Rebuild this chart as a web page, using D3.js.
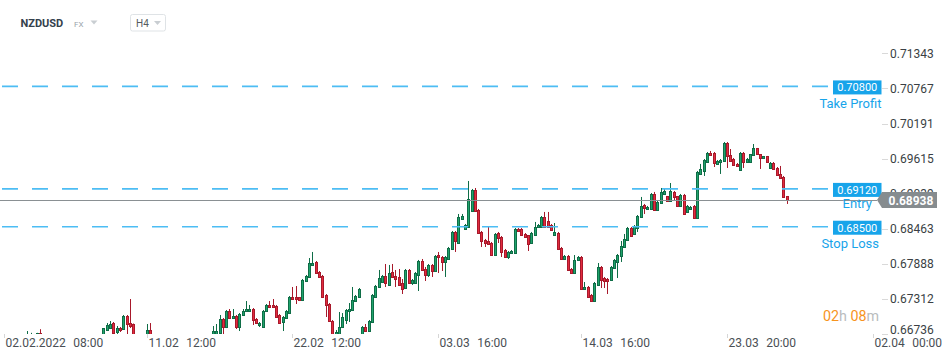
<!DOCTYPE html>
<html><head><meta charset="utf-8">
<script src="https://cdn.jsdelivr.net/npm/d3@7"></script>
<style>body{margin:0;background:#fff;} svg{display:block;font-family:Roboto,"Noto Sans",sans-serif;}</style>
</head><body><svg id="c" width="950" height="360"></svg>
<script>
// ---------- data (H4 candles, index 0 = 02.02.2022 08:00) ----------
const opens = [
.6640,.6645,.6652,.6648,.6655,.6660,.6657,.6662,.6665,.6670,
.6664,.6676,.6664,.6658,.6650,.6645,.6640,.6636,.6630,.6628,
.6633,.6640,.6646,.6650,.6655,.6652,.6658,.6661,.6657,.6663,
.66692,.66807,.66839,.66921,.66774,.66839,.66823,.67036,.66921,.66905,
.66736,.6661,.6665,.66692,.66807,.6668,.6661,.6655,.6649,.6644,
.6640,.6637,.6642,.6648,.6645,.6639,.6635,.6641,.6647,.6652,
.6658,.6662,.6667,.66692,.66725,.66757,.66987,.66856,.67118,.67003,
.67036,.66856,.67053,.67118,.67118,.67151,.66987,.66889,.66856,.67118,
.67217,.67217,.67200,.67053,.66938,.67003,.67085,.67348,.67348,.67348,
.67299,.67610,.67676,.67873,.67922,.67758,.67692,.67381,.67233,.66954,
.66643,.66741,.66856,.66971,.67118,.67135,.67282,.67348,.66643,.66856,
.66790,.66938,.67348,.67512,.67594,.67692,.67545,.67758,.67692,.67676,
.67577,.67495,.67791,.67577,.67577,.67709,.67938,.67807,.67709,.67873,
.67774,.68036,.68004,.67922,.67971,.68135,.68414,.68233,.68627,.68463,
.68496,.68758,.69102,.68774,.68414,.68282,.68266,.68233,.68036,.68397,
.68332,.68118,.68004,.68069,.68069,.68463,.68463,.68381,.68364,.68233,
.68364,.68496,.68496,.68660,.68594,.68528,.68364,.68397,.68151,.67971,
.68020,.67807,.67741,.67955,.68004,.67479,.67512,.67381,.67282,.67545,
.67840,.67659,.67643,.67627,.67823,.67922,.68020,.68168,.68282,.68479,
.68381,.68479,.68660,.68856,.68791,.68791,.69037,.68774,.68889,.69037,
.69004,.68922,.69070,.69004,.68840,.69020,.68742,.68791,.68840,.68643,
.69365,.69414,.69561,.69709,.69709,.69529,.69561,.69578,.69873,.69676,
.69610,.69529,.69430,.69709,.69561,.69561,.69676,.69791,.69692,.69627,
.69660,.69463,.69545,.69463,.69365,.69316,.68996];
const highs = [
.6649,.6656,.6660,.6658,.6664,.6667,.6668,.6679,.6676,.6671,
.6676,.6682,.6666,.6660,.6652,.6647,.6642,.6638,.6632,.6635,
.6642,.6648,.6652,.6657,.6657,.6660,.6663,.6663,.6665,.6670,
.66839,.66921,.66954,.66938,.66872,.66856,.67053,.67053,.67315,.66913,
.66741,.6668,.6671,.66905,.66921,.6670,.6663,.6657,.6651,.6646,
.6642,.6644,.6650,.6650,.6647,.6641,.6643,.6649,.6654,.6660,
.6664,.6669,.6670,.66872,.66905,.67053,.67003,.67135,.67151,.67151,
.67053,.67085,.67151,.67282,.67217,.67167,.67003,.66938,.67135,.67233,
.67282,.67315,.67217,.67069,.67036,.67135,.67364,.67512,.67528,.67348,
.67643,.67709,.67987,.68086,.67938,.67774,.67709,.67397,.67249,.66971,
.66807,.67102,.67085,.67151,.67249,.67512,.67381,.67495,.66872,.66905,
.66971,.67397,.67545,.67791,.67709,.67889,.67873,.67889,.67791,.67807,
.67643,.67807,.67807,.67643,.67758,.67955,.67971,.67840,.67889,.67889,
.68036,.68086,.68020,.68020,.68168,.68430,.68430,.68709,.68709,.68545,
.69250,.69119,.69135,.68791,.68430,.68299,.68496,.68250,.68397,.68414,
.68348,.68135,.68102,.68118,.68479,.68479,.68479,.68397,.68364,.68414,
.68578,.68545,.68676,.68742,.68742,.68545,.68561,.68414,.68168,.68036,
.68036,.67823,.68036,.68020,.68020,.67594,.67528,.67397,.67594,.67905,
.67856,.67676,.67659,.67856,.67971,.68053,.68266,.68381,.68496,.68496,
.68528,.68692,.68988,.68873,.68840,.69053,.69070,.68922,.69135,.69119,
.69004,.69217,.69086,.69004,.69037,.69037,.68856,.68840,.68856,.69414,
.69529,.69610,.69725,.69742,.69725,.69594,.69610,.69889,.69889,.69774,
.69627,.69545,.69725,.69725,.69627,.69692,.69856,.69791,.69692,.69660,
.69660,.69561,.69561,.69479,.69496,.69332,.69004];
const lows = [
.6636,.6638,.6645,.6641,.6649,.6652,.6653,.6658,.6661,.6660,
.6660,.6660,.6655,.6647,.6642,.6637,.6633,.6627,.6625,.6625,
.6630,.6637,.6643,.6647,.6649,.6649,.6655,.6654,.6654,.6660,
.66643,.66790,.66823,.66741,.66725,.66774,.66807,.66708,.66839,.66643,
.66561,.6657,.6662,.66676,.66643,.6658,.6652,.6646,.6641,.6637,
.6634,.6634,.6639,.6642,.6636,.6632,.6632,.6638,.6644,.6649,
.6655,.6659,.6663,.66676,.66708,.66741,.66725,.66839,.66987,.66987,
.66823,.66790,.67036,.67102,.67102,.66889,.66905,.66856,.66856,.67102,
.67167,.67167,.67020,.66905,.66790,.66987,.67085,.67299,.67233,.67282,
.67282,.67594,.67659,.67856,.67725,.67659,.67331,.67020,.66938,.66610,
.66626,.66725,.66839,.66905,.66938,.67118,.67266,.67331,.66610,.66774,
.66774,.66921,.67331,.67495,.67577,.67512,.67528,.67659,.67512,.67528,
.67397,.67479,.67561,.67545,.67561,.67446,.67774,.67610,.67676,.67676,
.67758,.67741,.67774,.67676,.67955,.68118,.68086,.68217,.68627,.68446,
.68479,.68742,.68742,.68381,.68168,.68168,.68200,.68020,.68020,.68233,
.68004,.67987,.67971,.68053,.68053,.68414,.68348,.68315,.68102,.68217,
.68348,.68479,.68479,.68479,.68479,.68430,.68348,.68118,.67955,.67955,
.67774,.67725,.67725,.67938,.67463,.67463,.67331,.67266,.67266,.67528,
.67495,.67495,.67397,.67610,.67807,.67659,.67922,.68151,.68266,.68332,
.68364,.68414,.68643,.68709,.68774,.68774,.68758,.68758,.68873,.69037,
.68906,.68906,.68938,.68824,.68840,.68692,.68725,.68774,.68627,.68627,
.69365,.69332,.69561,.69660,.69479,.69529,.69365,.69561,.69463,.69561,
.69496,.69479,.69430,.69463,.69545,.69561,.69660,.69676,.69447,.69610,
.69545,.69447,.69430,.69332,.69283,.68971,.68873];
const closes = [
.6645,.6652,.6648,.6655,.6660,.6657,.6665,.6671,.6670,.6664,
.6676,.6664,.6658,.6650,.6645,.6640,.6636,.6630,.6628,.6633,
.6640,.6646,.6650,.6655,.6652,.6658,.6661,.6657,.6663,.6668,
.66839,.66889,.66905,.66757,.66839,.66807,.67036,.66905,.66872,.66676,
.66610,.6665,.6667,.66807,.66676,.6661,.6655,.6649,.6644,.6640,
.6637,.6642,.6648,.6645,.6639,.6635,.6641,.6647,.6652,.6658,
.6662,.6667,.6668,.66790,.66790,.66987,.66856,.67118,.67003,.67036,
.66856,.67069,.67118,.67151,.67151,.66971,.66921,.66921,.67118,.67217,
.67184,.67184,.67020,.66921,.67020,.67118,.67348,.67315,.67315,.67299,
.67627,.67692,.67905,.67905,.67741,.67676,.67348,.67217,.66954,.66643,
.66774,.66856,.67020,.67135,.67151,.67299,.67364,.67479,.66856,.66790,
.66954,.67381,.67528,.67659,.67692,.67577,.67741,.67676,.67643,.67545,
.67479,.67791,.67577,.67627,.67741,.67938,.67791,.67709,.67873,.67774,
.68020,.68004,.67922,.68004,.68151,.68414,.68266,.68660,.68676,.68528,
.68955,.69102,.68758,.68397,.68266,.68233,.68217,.68036,.68381,.68315,
.68086,.68004,.68086,.68102,.68463,.68430,.68364,.68332,.68217,.68397,
.68496,.68528,.68660,.68496,.68496,.68446,.68414,.68135,.67971,.68020,
.67791,.67741,.67955,.68004,.67479,.67512,.67348,.67282,.67577,.67840,
.67627,.67610,.67610,.67840,.67955,.68036,.68184,.68299,.68479,.68348,
.68512,.68676,.68840,.68807,.68824,.69037,.68774,.68906,.69070,.69086,
.68922,.69086,.68988,.68840,.69020,.68709,.68840,.68824,.68643,.69397,
.69447,.69594,.69709,.69676,.69545,.69578,.69594,.69873,.69660,.69578,
.69512,.69496,.69709,.69561,.69610,.69692,.69791,.69692,.69627,.69660,
.69561,.69545,.69447,.69348,.69299,.68980,.68938];

const priceTicks = [0.71343,0.70767,0.70191,0.69615,0.69039,0.68463,0.67888,0.67312,0.66736];
const timeTickIdx = [0,43,87,131,174,218,262];
const timeTickDates = ["02.02.2022","11.02","22.02","03.03","14.03","23.03","02.04"];
const timeTickTimes = ["08:00","12:00","12:00","16:00","16:00","20:00","00:00"];
const levelNames = ["Take Profit","Entry","Stop Loss"];
const levelValues = [0.70800,0.69120,0.68500];
const lastPrice = 0.68938;
const symbol = "NZDUSD", market = "FX", timeframe = "H4";
const countdownParts = ["02","h","08","m"];

// ---------- chart ----------
const svg = d3.select("#c");
const N = closes.length;
const plotBottom = 334, plotRight = 880;
const x = d3.scaleLinear().domain([0, N - 1]).range([4, 786.5]);
const y = d3.scaleLinear().domain([0.667413, 0.722168]).range([plotBottom, 0]);

svg.append("rect").attr("width",950).attr("height",360).attr("fill","#fff");

const defs = svg.append("defs");
defs.append("clipPath").attr("id","plotclip").append("rect")
  .attr("x",0).attr("y",0).attr("width",plotRight).attr("height",plotBottom);
// price label 0.69039 sits under the last-price box: show only its uncovered part
defs.append("clipPath").attr("id","axisclip").append("rect")
  .attr("x",880).attr("y",0).attr("width",70).attr("height",360);

const candles = d3.range(N).map(i => ({i, o:opens[i], h:highs[i], l:lows[i], c:closes[i]}));
const gC = svg.append("g").attr("clip-path","url(#plotclip)");
const up = {fill:"#1fa36c", edge:"#0f6d47"}, dn = {fill:"#e22b3e", edge:"#a8192b"};
const cg = gC.selectAll("g.cd").data(candles).join("g").attr("class","cd");
cg.append("line")
  .attr("x1", d => Math.round(x(d.i)) + 0.5).attr("x2", d => Math.round(x(d.i)) + 0.5)
  .attr("y1", d => y(d.h)).attr("y2", d => y(d.l))
  .attr("stroke", d => d.c >= d.o ? up.edge : dn.edge).attr("stroke-width",1);
cg.append("rect")
  .attr("x", d => Math.round(x(d.i)) - 0.5)
  .attr("width", 2)
  .attr("y", d => Math.round(y(Math.max(d.o,d.c))) + 0.5)
  .attr("height", d => Math.max(1, Math.round(Math.abs(y(d.o) - y(d.c)))))
  .attr("fill", d => d.c >= d.o ? up.fill : dn.fill)
  .attr("stroke", d => d.c >= d.o ? up.edge : dn.edge).attr("stroke-width",1);

// level lines
const blue = "#17a4ea";
levelValues.forEach((v,k) => {
  const ly = y(v);
  svg.append("line").attr("x1",2).attr("x2",828).attr("y1",ly).attr("y2",ly)
    .attr("stroke","#4dbdf4").attr("stroke-width",1.6).attr("stroke-dasharray","16,14");
});
// last price line
const lpY = Math.round(y(lastPrice)) + 0.5;
svg.append("line").attr("x1",0).attr("x2",877).attr("y1",lpY).attr("y2",lpY)
  .attr("stroke","#8a9093").attr("stroke-width",1);

// price axis
const pa = svg.append("g");
const ly0 = y(lastPrice);
priceTicks.forEach(v => {
  const ty = y(v);
  pa.append("line").attr("x1",882).attr("x2",888).attr("y1",Math.round(ty)+0.5).attr("y2",Math.round(ty)+0.5)
    .attr("stroke","#d9d9d9");
  const covered = Math.abs(ty - ly0) < 12;
  const t = pa.append("text").attr("x",890).attr("y",Math.min(ty,329.5)+4.3)
    .attr("font-size",12).attr("fill","#3a3f44").text(v.toFixed(5));
  if (covered) {
    const cid = "cov" + Math.round(ty);
    defs.append("clipPath").attr("id",cid).append("rect")
      .attr("x",880).attr("y",0).attr("width",70).attr("height",ly0 - 8);
    t.attr("clip-path",`url(#${cid})`);
  }
});

// level labels
levelValues.forEach((v,k) => {
  const ly = y(v);
  svg.append("rect").attr("x",833).attr("y",ly-6).attr("width",48.5).attr("height",14).attr("fill",blue);
  svg.append("text").attr("x",857.25).attr("y",ly+5).attr("text-anchor","middle")
    .attr("font-size",11).attr("fill","#fff").text(v.toFixed(5));
  const right = levelNames[k] === "Entry" ? 872 : (levelNames[k] === "Stop Loss" ? 879 : 881.5);
  const by = levelNames[k] === "Entry" ? ly + 19.5 : ly + 21.5;
  svg.append("text").attr("x",right).attr("y",by).attr("text-anchor","end")
    .attr("font-size",13).attr("fill",blue).text(levelNames[k]);
});

// last price box
svg.append("path")
  .attr("d",`M877,${ly0} L882,${ly0-8} L937,${ly0-8} L937,${ly0+8} L882,${ly0+8} Z`)
  .attr("fill","#868c8f");
svg.append("text").attr("x",911).attr("y",ly0+4.5).attr("text-anchor","middle")
  .attr("font-size",12).attr("font-weight","bold").attr("fill","#fff").text(lastPrice.toFixed(5));

// time axis
const ta = svg.append("g");
timeTickIdx.forEach((ti,k) => {
  const tx = Math.round(x(ti)) + 0.5;
  ta.append("line").attr("x1",tx).attr("x2",tx).attr("y1",334).attr("y2",338).attr("stroke","#d6d6d6");
  const t1 = ta.append("text").attr("x",tx+1).attr("y",346.5).attr("font-size",12).attr("fill","#4a4f54")
    .text(timeTickDates[k]);
  const w = t1.node().getComputedTextLength();
  ta.append("text").attr("x",tx+1+w+7.5).attr("y",346.5).attr("font-size",12).attr("fill","#4a4f54")
    .text(timeTickTimes[k]);
});

// countdown
const cd = svg.append("text").attr("x",823).attr("y",320.5).attr("font-size",14.3);
countdownParts.forEach((p,k) => {
  cd.append("tspan").attr("fill", k % 2 === 0 ? "#f7941d" : "#b9bcbe").text(k===1 ? p + " " : p);
});

// header
svg.append("text").attr("x",20.5).attr("y",26.8).attr("font-size",11).attr("font-weight","bold")
  .attr("fill","#34414c").text(symbol);
svg.append("text").attr("x",74).attr("y",26.6).attr("font-size",8).attr("fill","#9aa4ab").text(market);
svg.append("path").attr("d","M90.5,20.5 L97.5,20.5 L94,24.5 Z").attr("fill","#c9ced2");
svg.append("rect").attr("x",130.5).attr("y",14.5).attr("width",35).attr("height",16.5).attr("rx",2)
  .attr("fill","#fff").attr("stroke","#dfe3e6");
svg.append("text").attr("x",136).attr("y",26.6).attr("font-size",10).attr("fill","#555b60").text(timeframe);
svg.append("path").attr("d","M154,21 L161,21 L157.5,25 Z").attr("fill","#c9ced2");
</script></body></html>
